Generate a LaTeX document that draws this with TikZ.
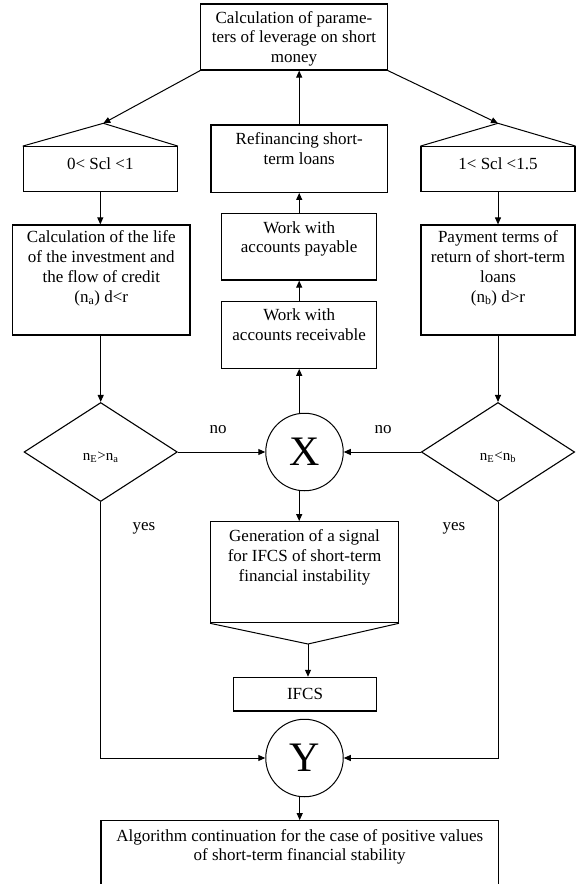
\documentclass[tikz,border=0pt]{standalone}
\usepackage{fontspec}
\setmainfont{Liberation Serif}
\usetikzlibrary{arrows.meta,shapes.geometric}
\begin{document}
\begin{tikzpicture}[x=1pt,y=-1pt,
  box/.style={draw, line width=1.2pt, inner sep=0pt},
  txt/.style={inner sep=0pt, align=center, font=\fontsize{17}{19.8}\selectfont},
  cond/.style={draw, diamond, line width=1.1pt, inner sep=0pt, minimum width=153.3pt, minimum height=99pt},
  condT/.style={inner sep=0pt, font=\fontsize{15}{17}\selectfont},
  junc/.style={draw, circle, line width=1pt, inner sep=0pt, minimum size=77.5pt, font=\fontsize{42}{46}\selectfont},
  conn/.style={line width=1pt},
  arr/.style={line width=1pt, -{Triangle[length=7pt,width=6pt]}},
  lbl/.style={inner sep=0pt, font=\fontsize{17}{19.8}\selectfont}]
\useasboundingbox (0,0) rectangle (576,884);
% boxes
\node[box, minimum width=186.6pt, minimum height=66pt] (top) at (294,37) {};
\node[box, minimum width=154pt, minimum height=45pt] (scl1) at (100.3,169.2) {};
\node[box, minimum width=154pt, minimum height=45pt] (scl2) at (498,169.2) {};
\node[box, minimum width=176.3pt, minimum height=67.3pt] (ref) at (299.2,158.7) {};
\node[box, minimum width=155pt, minimum height=66.7pt] (pay) at (299.2,246.7) {};
\node[box, minimum width=155pt, minimum height=66.6pt] (rec) at (299.2,335) {};
\node[box, minimum width=177.3pt, minimum height=110pt] (life) at (101.3,280) {};
\node[box, minimum width=154pt, minimum height=110pt] (terms) at (498,280) {};
\node[box, minimum width=187.6pt, minimum height=101pt] (gen) at (304.5,572.2) {};
\node[box, minimum width=143.4pt, minimum height=33.7pt, font=\fontsize{17}{19.8}\selectfont] (ifcs) at (305,694.2) {IFCS};
\node[box, minimum width=397.3pt, minimum height=100pt] (fin) at (299.7,870.7) {};
% texts
\node[txt, anchor=north] (topT) at (294,11) {Calculation of parame-\\ters of leverage on short\\money};
\node[txt, anchor=base] (scl1T) at (100.3,169.5) {0< Scl <1};
\node[txt, anchor=base] (scl2T) at (498,169.5) {1< Scl <1.5};
\node[txt, anchor=north] (refT) at (299.2,132.5) {Refinancing short-\\term loans};
\node[txt, anchor=north] (payT) at (299.2,221) {Work with\\accounts payable};
\node[txt, anchor=north] (recT) at (299.2,308.5) {Work with\\accounts receivable};
\node[txt, anchor=north] (lifeT) at (101.3,230.5) {Calculation of the life\\of the investment and\\the flow of credit\\(n\textsubscript{a}) d<r};
\node[txt, anchor=north] (termsT) at (498,230.5) {Payment terms of\\return of short-term\\loans\\(n\textsubscript{b}) d>r};
\node[txt, anchor=north] (genT) at (304.5,529.5) {Generation of a signal\\for IFCS of short-term\\financial instability};
\node[txt, anchor=north] (finT) at (299.7,829) {Algorithm continuation for the case of positive values\\of short-term financial stability};
% decisions and junctions
\node[cond] (dL) at (100.7,452) {};
\node[cond] (dR) at (498,452) {};
\node[condT] (dLT) at (100.7,457) {n\textsubscript{E}>n\textsubscript{a}};
\node[condT] (dRT) at (498,457) {n\textsubscript{E}<n\textsubscript{b}};
\node[junc] (X) at (304.5,452) {X};
\node[junc] (Y) at (304.5,758) {Y};
% labels
\node[lbl] (no1) at (218,430) {no};
\node[lbl] (no2) at (383,430) {no};
\node[lbl] (yes1) at (144,528) {yes};
\node[lbl] (yes2) at (454,528) {yes};
% apex coordinates
\coordinate (aL) at (103.3,123.3);
\coordinate (aR) at (498,123.3);
\coordinate (gA) at (308,644);
% connectors
\draw[arr] (top.south west) -- (aL);
\draw[arr] (top.south east) -- (aR);
\draw[conn] (scl1.north west) -- (aL) -- (scl1.north east);
\draw[conn] (scl2.north west) -- (aR) -- (scl2.north east);
\draw[arr] (ref.north) -- (ref.north |- top.south);
\draw[arr] (pay.north) -- (ref.south);
\draw[arr] (rec.north) -- (pay.south);
\draw[arr] (X.north -| rec.south) -- (rec.south);
\draw[arr] (scl1.south) -- (scl1.south |- life.north);
\draw[arr] (scl2.south) -- (terms.north);
\draw[arr] (dL.north |- life.south) -- (dL.north);
\draw[arr] (terms.south) -- (dR.north);
\draw[arr] (dL.east) -- (X.west);
\draw[arr] (dR.west) -- (X.east);
\draw[arr] (X.south -| rec.south) -- (gen.north -| rec.south);
\draw[conn] (gen.south west) -- (gA) -- (gen.south east);
\draw[arr] (gA) -- (gA |- ifcs.north);
\draw[arr] (dL.south) |- (Y.west);
\draw[arr] (dR.south) |- (Y.east);
\draw[arr] (Y.south -| fin.north) -- (fin.north);
\end{tikzpicture}
\end{document}
